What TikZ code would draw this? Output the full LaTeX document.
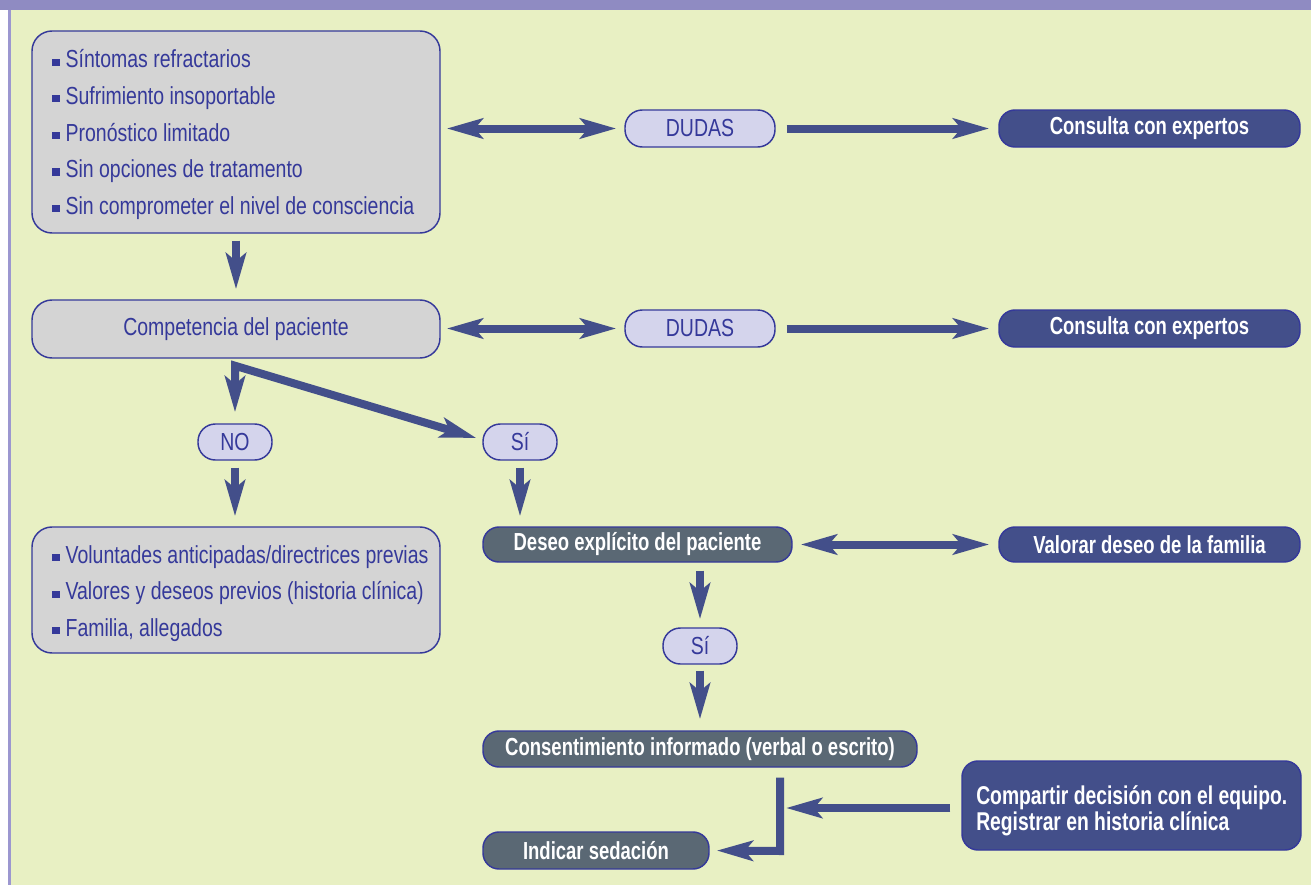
\documentclass[tikz,border=0pt]{standalone}
\usepackage{fontspec}
\setmainfont{Liberation Sans}[FakeStretch=0.79]
\newfontfamily\condbold{Liberation Sans}[FakeStretch=0.75]
\usetikzlibrary{arrows.meta}
\newdimen\pxu \pxu=0.75pt
\definecolor{bgc}{HTML}{E8F0C3}
\definecolor{bandc}{HTML}{8F8BC2}
\definecolor{sidec}{HTML}{9C97D0}
\definecolor{grayc}{HTML}{D4D4D4}
\definecolor{edgec}{HTML}{35399A}
\definecolor{txtc}{HTML}{35399A}
\definecolor{arrc}{HTML}{434F8A}
\definecolor{lavc}{HTML}{D4D4EC}
\definecolor{slatec}{HTML}{5A6874}
\definecolor{navyc}{HTML}{434F8A}
\newcommand{\bul}{{\color{txtc}\rule[1.5pt]{5.5pt}{5.5pt}}\hspace{4.5pt}}
\tikzset{
  bigtip/.tip={Stealth[length=27pt,width=15pt,inset=6pt]},
  graybox/.style={draw=edgec, line width=1.1pt, fill=grayc, rounded corners=15pt, inner sep=0pt, text=txtc, font=\fontsize{18.5}{20}\selectfont},
  pill/.style={draw=edgec, line width=1.1pt, fill=lavc, rounded corners=13pt, inner sep=0pt, text=txtc, font=\fontsize{18.5}{20}\selectfont},
  slatebox/.style={draw=edgec, line width=1.1pt, fill=slatec, rounded corners=12pt, inner sep=0pt, text=white, font=\condbold\bfseries\fontsize{18.5}{20}\selectfont},
  navybox/.style={draw=edgec, line width=1.1pt, fill=navyc, rounded corners=12pt, inner sep=0pt, text=white, font=\condbold\bfseries\fontsize{18.5}{20}\selectfont},
  listtext/.style={anchor=west, inner sep=0pt, text=txtc, align=left, font=\fontsize{18.5}{27.4}\selectfont},
  arr/.style={draw=arrc, line width=6pt, -bigtip},
  darr/.style={draw=arrc, line width=6pt, bigtip-bigtip}
}
\begin{document}
\begin{tikzpicture}[x=0.75pt,y=-0.75pt]
\useasboundingbox (0,0) rectangle (1311,885);
% background
\fill[white] (0,0) rectangle (1311,885);
\fill[bgc] (10,10) rectangle (1311,885);
\fill[sidec] (8,10) rectangle (11,885);
\fill[bandc] (0,0) rectangle (1311,10);

% left column
\node[graybox, minimum width=408\pxu, minimum height=202\pxu] (box1) at (236,132) {};
\node[listtext] (list1) at (52,134.5) {\bul Síntomas refractarios\\\bul Sufrimiento insoportable\\\bul Pronóstico limitado\\\bul Sin opciones de tratamento\\\bul Sin comprometer el nivel de consciencia};
\node[graybox, minimum width=408\pxu, minimum height=58\pxu] (comp) at (236,329) {Competencia del paciente};
\node[graybox, minimum width=408\pxu, minimum height=126\pxu] (box3) at (236,590) {};
\node[listtext] (list3) at (52,593.5) {\bul Voluntades anticipadas/directrices previas\\\bul Valores y deseos previos (historia clínica)\\\bul Familia, allegados};

% dudas / consulta
\node[pill, minimum width=150\pxu, minimum height=37\pxu] (dudas1) at (700,128.5) {DUDAS};
\node[navybox, minimum width=301\pxu, minimum height=37\pxu] (cons1) at (1149.5,128.5) {Consulta con expertos};
\node[pill, minimum width=150\pxu, minimum height=37\pxu] (dudas2) at (700,328.5) {DUDAS};
\node[navybox, minimum width=301\pxu, minimum height=37\pxu] (cons2) at (1149.5,328.5) {Consulta con expertos};

% NO / Si
\node[pill, minimum width=74\pxu, minimum height=36\pxu] (no) at (235,442) {NO};
\node[pill, minimum width=74\pxu, minimum height=36\pxu] (si1) at (520,442) {Sí};
\node[slatebox, minimum width=309\pxu, minimum height=35\pxu] (deseo) at (637.5,544.5) {Deseo explícito del paciente};
\node[navybox, minimum width=301\pxu, minimum height=35\pxu] (valorar) at (1149.5,544.5) {Valorar deseo de la familia};
\node[pill, minimum width=74\pxu, minimum height=36\pxu] (si2) at (700,646) {Sí};
\node[slatebox, minimum width=434\pxu, minimum height=36\pxu] (consent) at (700,749) {Consentimiento informado (verbal o escrito)};
\node[slatebox, minimum width=226\pxu, minimum height=37\pxu] (indicar) at (596,850.5) {Indicar sedación};
\node[navybox, minimum width=339\pxu, minimum height=89\pxu] (share) at (1131.5,805.5) {};
\node[anchor=west, inner sep=0pt, align=left, text=white, font=\condbold\bfseries\fontsize{19.3}{19.5}\selectfont] (sharetext) at (976,811) {Compartir decisión con el equipo.\\Registrar en historia clínica};

% connectors
\draw[darr, shorten <=6\pxu, shorten >=8\pxu] (box1.east |- dudas1.west) -- (dudas1.west);
\draw[arr, shorten <=11\pxu, shorten >=9\pxu] (dudas1.east) -- (cons1.west);
\draw[arr, shorten <=7\pxu, shorten >=10\pxu] (box1.south) -- (comp.north);
\draw[darr, shorten <=6\pxu, shorten >=8\pxu] (comp.east |- dudas2.west) -- (dudas2.west);
\draw[arr, shorten <=11\pxu, shorten >=9\pxu] (dudas2.east) -- (cons2.west);
\coordinate (split) at ([yshift=-7\pxu]no.north |- comp.south);
\draw[darr, shorten <=11\pxu] (no.north) -- (split) -- ([xshift=-6\pxu,yshift=4\pxu]si1.west);
\draw[arr, shorten <=7\pxu, shorten >=10\pxu] (no.south) -- (no.south |- box3.north);
\draw[arr, shorten <=7\pxu, shorten >=10\pxu] (si1.south) -- (si1.south |- deseo.north);
\draw[darr, shorten <=8\pxu, shorten >=9\pxu] (deseo.east) -- (valorar.west);
\draw[arr, shorten <=8\pxu, shorten >=8\pxu] (si2.north |- deseo.south) -- (si2.north);
\draw[arr, shorten <=6\pxu, shorten >=11\pxu] (si2.south) -- (si2.south |- consent.north);
\coordinate (elbow) at (780,851);
\draw[arr, shorten <=10\pxu, shorten >=7\pxu] (consent.south -| elbow) -- (elbow) -- (indicar.east);
\draw[arr, shorten <=11\pxu, shorten >=6\pxu] (share.west |- 0,808) -- (elbow |- 0,808);
\end{tikzpicture}
\end{document}
